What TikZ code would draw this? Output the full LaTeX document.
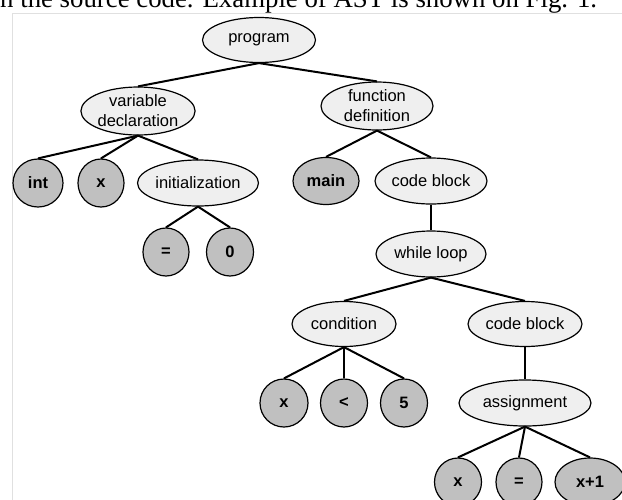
\documentclass[tikz,border=0pt]{standalone}
\usepackage{fontspec}
\setmainfont{Liberation Sans}
\newfontfamily\paperfont{Liberation Serif}
\usepackage{tikz}
\usetikzlibrary{shapes, calc}

\definecolor{innerGray}{HTML}{EFEFEF}
\definecolor{leafGray}{HTML}{C0C0C0}
\definecolor{frameGray}{HTML}{E0E0E0}

\begin{document}
\begin{tikzpicture}[
	x=1pt, y=-1pt,
	inner/.style={ellipse, draw, fill=innerGray, line width=1.2pt, inner sep=0pt,
		minimum width=112, minimum height=46, align=center,
		font=\fontsize{16.5}{20}\selectfont},
	leaf/.style={inner, fill=leafGray, minimum width=47, minimum height=48,
		font=\bfseries\fontsize{16.5}{20}\selectfont},
	link/.style={line width=2pt}
	]
	
	\useasboundingbox (0,0) rectangle (622,499);
	\clip (0,0) rectangle (622,499);
	
	% paper
	\node[anchor=base west, inner sep=0pt, font=\paperfont\fontsize{26.8}{30}\selectfont] (caption) at (0,7) {n the source code. Example of AST is shown on Fig. 1.};
	\coordinate (F1) at (12.5,520);
	\coordinate (F2) at (12.5,13);
	\coordinate (F3) at (640,13);
	\draw[frameGray, line width=0.9pt] (F1) -- (F2) -- (F3);
	
	% tree
	\node[inner, minimum width=113, minimum height=45] (prog) at (259,40) {program};
	\node[inner, minimum height=48] (varDecl) at (138,111) {variable\\declaration};
	\node[inner, minimum height=48] (funcDef) at (377,106) {function\\definition};
	
	\node[leaf, minimum width=50] (int) at (38,183) {int};
	\node[leaf, minimum width=46] (x1) at (101,183) {x};
	\node[inner, minimum width=121] (init) at (198,183) {initialization};
	\node[leaf, minimum width=46] (eq1) at (166,252) {=};
	\node[leaf] (zero) at (230,252) {0};
	
	\node[leaf, minimum width=66, minimum height=47] (main) at (326,181) {main};
	\node[inner] (block1) at (431,181) {code block};
	\node[inner, minimum width=110] (while) at (431,254) {while loop};
	
	\node[inner, minimum width=104, minimum height=45] (cond) at (344,324) {condition};
	\node[inner, minimum width=114, minimum height=45] (block2) at (525,324) {code block};
	\node[leaf, minimum width=48] (x2) at (284,403) {x};
	\node[leaf] (lt) at (344,403) {<};
	\node[leaf] (five) at (404,403) {5};
	\node[inner, minimum width=132] (assign) at (525,403) {assignment};
	\node[leaf] (x3) at (458,482) {x};
	\node[leaf, minimum width=46] (eq2) at (519,482) {=};
	\node[leaf, minimum width=70] (xPlus) at (590,482) {x+1};
	
	\draw[link] (prog.south) -- (varDecl.north);
	\draw[link] (prog.south) -- (funcDef.north);
	\draw[link] (varDecl.south) -- (int.north);
	\draw[link] (varDecl.south) -- (x1.north);
	\draw[link] (varDecl.south) -- (init.north);
	\draw[link] (init.south) -- (eq1.north);
	\draw[link] (init.south) -- (zero.north);
	\draw[link] (funcDef.south) -- (main.north);
	\draw[link] (funcDef.south) -- (block1.north);
	\draw[link] (block1.south) -- (while.north);
	\draw[link] (while.south) -- (cond.north);
	\draw[link] (while.south) -- (block2.north);
	\draw[link] (cond.south) -- (x2.north);
	\draw[link] (cond.south) -- (lt.north);
	\draw[link] (cond.south) -- (five.north);
	\draw[link] (block2.south) -- (assign.north);
	\draw[link] (assign.south) -- (x3.north);
	\draw[link] (assign.south) -- (eq2.north);
	\draw[link] (assign.south) -- (xPlus.north);
\end{tikzpicture}
\end{document}
